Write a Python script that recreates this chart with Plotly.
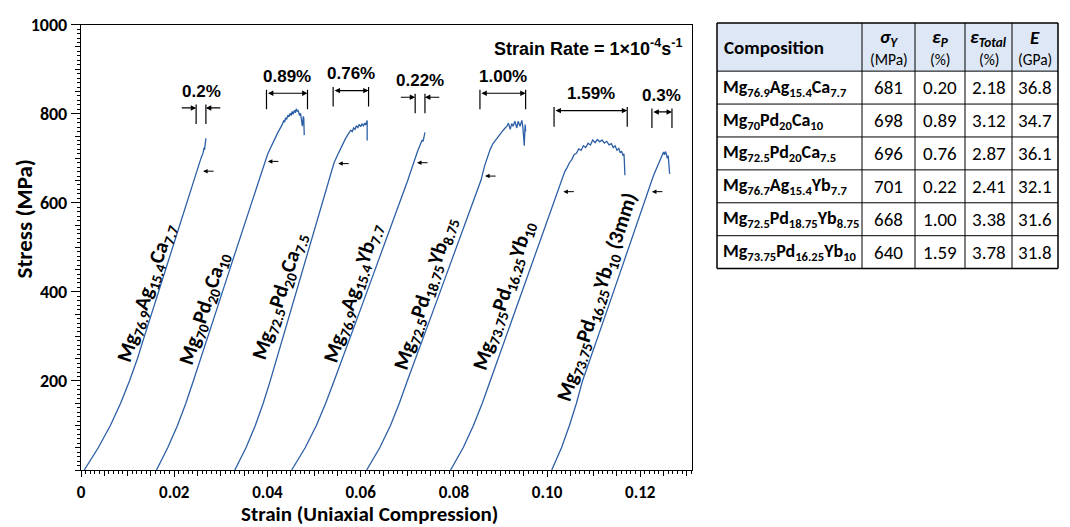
import plotly.graph_objects as go

# ---------------- data ----------------
c1_strain = [0.0007, 0.0037, 0.0063, 0.0085, 0.0104, 0.0121, 0.0136, 0.0166, 0.0196, 0.0226, 0.0251,
             0.0258, 0.0262, 0.0264, 0.0265, 0.0267, 0.0268]
c1_stress = [0, 50, 100, 150, 200, 250, 300, 400, 500, 600, 684, 702, 712, 724, 719, 735, 745]

c2_strain = [0.0162, 0.0186, 0.0207, 0.0225, 0.0241, 0.0257, 0.0288, 0.0319, 0.0350, 0.0381, 0.0393,
             0.0400, 0.0406, 0.0412, 0.0418, 0.0422, 0.0426, 0.0429, 0.0432, 0.0435, 0.0437, 0.0439,
             0.0441, 0.0444, 0.0446, 0.0449, 0.0451, 0.0453, 0.0455, 0.0458, 0.0460, 0.0462, 0.0464,
             0.0466, 0.0469, 0.0471, 0.0473, 0.0475, 0.0477, 0.0478, 0.0479]
c2_stress = [0, 50, 100, 150, 200, 250, 350, 450, 550, 650, 690,
             708, 722, 737, 748, 757, 764, 772, 776, 785, 781, 791,
             787, 797, 793, 801, 796, 805, 799, 808, 802, 811, 806,
             807, 796, 801, 786, 772, 794, 790, 752]

c3_strain = [0.0330, 0.0354, 0.0374, 0.0391, 0.0406, 0.0420, 0.0448, 0.0476, 0.0504, 0.0532, 0.0543,
             0.0550, 0.0556, 0.0562, 0.0567, 0.0572, 0.0576, 0.0579, 0.0582, 0.0585, 0.0588, 0.0591,
             0.0594, 0.0597, 0.0600, 0.0603, 0.0606, 0.0609, 0.0611, 0.0613, 0.0614, 0.0614]
c3_stress = [0, 50, 100, 150, 200, 250, 350, 450, 550, 650, 690,
             706, 720, 733, 743, 752, 757, 763, 760, 768, 765, 773,
             769, 776, 771, 777, 773, 779, 775, 783, 785, 740]

c4_strain = [0.0452, 0.0481, 0.0505, 0.0525, 0.0543, 0.0561, 0.0596, 0.0631, 0.0666, 0.0701,
             0.0722, 0.0729, 0.0732, 0.0734, 0.0736, 0.0738]
c4_stress = [0, 50, 100, 150, 200, 250, 350, 450, 550, 650, 715, 733, 741, 738, 748, 758]

c5_strain = [0.0613, 0.0641, 0.0664, 0.0683, 0.0700, 0.0718, 0.0753, 0.0788, 0.0823, 0.0858,
             0.0866, 0.0872, 0.0878, 0.0884, 0.0890, 0.0896, 0.0901, 0.0906, 0.0910, 0.0914,
             0.0917, 0.0919, 0.0921, 0.0924, 0.0927, 0.0931, 0.0933, 0.0935, 0.0938, 0.0940,
             0.0942, 0.0944, 0.0946, 0.0948, 0.0949, 0.0950, 0.0951, 0.0952, 0.0953, 0.0954]
c5_stress = [0, 50, 100, 150, 200, 250, 350, 450, 550, 650,
             683, 703, 720, 733, 742, 750, 756, 763, 768, 772,
             779, 770, 765, 778, 772, 783, 776, 768, 783, 775,
             772, 779, 785, 770, 761, 745, 728, 752, 776, 760]

c6_strain = [0.0793, 0.0820, 0.0842, 0.0861, 0.0878, 0.0895, 0.0929, 0.0963, 0.0997, 0.1017,
             0.1028, 0.1033, 0.1038, 0.1043, 0.1048, 0.1053, 0.1058, 0.1063, 0.1068, 0.1073,
             0.1078, 0.1083, 0.1088, 0.1093, 0.1098, 0.1103, 0.1108, 0.1113, 0.1118, 0.1123,
             0.1128, 0.1133, 0.1138, 0.1142, 0.1146, 0.1150, 0.1154, 0.1157, 0.1160, 0.1163,
             0.1165, 0.1166, 0.1167]
c6_stress = [0, 50, 100, 150, 200, 250, 350, 450, 550, 610,
             645, 657, 670, 679, 690, 697, 708, 711, 721, 718,
             728, 724, 734, 730, 741, 735, 742, 737, 741, 734,
             738, 730, 733, 724, 728, 718, 722, 712, 716, 706, 710, 690, 662]

c7_strain = [0.1010, 0.1031, 0.1048, 0.1063, 0.1076, 0.1093, 0.1126, 0.1159, 0.1192, 0.1215,
             0.1228, 0.1238, 0.1243, 0.1247, 0.1250, 0.1252, 0.1254, 0.1256, 0.1258, 0.1260,
             0.1262, 0.1263]
c7_stress = [0, 50, 100, 150, 200, 250, 350, 450, 550, 620,
             660, 685, 698, 708, 714, 708, 715, 710, 700, 706, 682, 665]

curve_labels = [
    "Mg<sub>76.9</sub>Ag<sub>15.4</sub>Ca<sub>7.7</sub>",
    "Mg<sub>70</sub>Pd<sub>20</sub>Ca<sub>10</sub>",
    "Mg<sub>72.5</sub>Pd<sub>20</sub>Ca<sub>7.5</sub>",
    "Mg<sub>76.9</sub>Ag<sub>15.4</sub>Yb<sub>7.7</sub>",
    "Mg<sub>72.5</sub>Pd<sub>18.75</sub>Yb<sub>8.75</sub>",
    "Mg<sub>73.75</sub>Pd<sub>16.25</sub>Yb<sub>10</sub>",
    "Mg<sub>73.75</sub>Pd<sub>16.25</sub>Yb<sub>10</sub> (3mm)",
]
label_strain = [0.0141, 0.0264, 0.0427, 0.0584, 0.0740, 0.0908, 0.1109]
label_stress = [397, 362, 390, 397, 397, 393, 388]

# yield markers (small arrows)
yield_strain = [0.0262, 0.0401, 0.0552, 0.0721, 0.0867, 0.1035, 0.1225]
yield_stress = [671, 693, 688, 690, 660, 625, 625]

# plastic-strain brackets
plastic_labels = ["0.2%", "0.89%", "0.76%", "0.22%", "1.00%", "1.59%", "0.3%"]
plastic_start = [0.0247, 0.0398, 0.0541, 0.0717, 0.0856, 0.1015, 0.1225]
plastic_end = [0.0268, 0.0486, 0.0617, 0.0738, 0.0954, 0.1172, 0.1268]
bracket_top = [821, 854, 860, 845, 854, 815, 812]

x_ticks = [0, 0.02, 0.04, 0.06, 0.08, 0.10, 0.12]
x_ticktext = ["0", "0.02", "0.04", "0.06", "0.08", "0.10", "0.12"]
y_ticks = [200, 400, 600, 800, 1000]

# table
tbl_head_sym = ["Composition", "<i>σ<sub>Y</sub></i>", "<i>ε<sub>P</sub></i>",
                "<i>ε<sub>Total</sub></i>", "<i>E</i>"]
tbl_head_unit = ["", "(MPa)", "(%)", "(%)", "(GPa)"]
tbl_comp = [
    "Mg<sub>76.9</sub>Ag<sub>15.4</sub>Ca<sub>7.7</sub>",
    "Mg<sub>70</sub>Pd<sub>20</sub>Ca<sub>10</sub>",
    "Mg<sub>72.5</sub>Pd<sub>20</sub>Ca<sub>7.5</sub>",
    "Mg<sub>76.7</sub>Ag<sub>15.4</sub>Yb<sub>7.7</sub>",
    "Mg<sub>72.5</sub>Pd<sub>18.75</sub>Yb<sub>8.75</sub>",
    "Mg<sub>73.75</sub>Pd<sub>16.25</sub>Yb<sub>10</sub>",
]
tbl_sigma = ["681", "698", "696", "701", "668", "640"]
tbl_epsp = ["0.20", "0.89", "0.76", "0.22", "1.00", "1.59"]
tbl_epst = ["2.18", "3.12", "2.87", "2.41", "3.38", "3.78"]
tbl_E = ["36.8", "34.7", "36.1", "32.1", "31.6", "31.8"]

# ---------------- figure ----------------
MAIN = "Carlito, Lato, sans-serif"
NARROW = "Liberation Sans Narrow, Liberation Sans, Arial, sans-serif"
BLUE = "#2d5fa6"
W, H = 1070, 527
ML, MR, MT, MB = 81, 12, 15, 57
PW, PH = W - ML - MR, H - MT - MB


def pxx(px):
    return (px - ML) / PW


def pxy(py):
    return (H - MB - py) / PH


fig = go.Figure()
curves = [(c1_strain, c1_stress), (c2_strain, c2_stress), (c3_strain, c3_stress),
          (c4_strain, c4_stress), (c5_strain, c5_stress), (c6_strain, c6_stress),
          (c7_strain, c7_stress)]
for sx, sy in curves:
    fig.add_trace(go.Scatter(x=sx, y=sy, mode="lines", line=dict(color=BLUE, width=1.3),
                             hoverinfo="skip", showlegend=False))

# dummy traces to host the tick-only overlay axes
fig.add_trace(go.Scatter(x=[], y=[], xaxis="x2", yaxis="y", showlegend=False))
fig.add_trace(go.Scatter(x=[], y=[], xaxis="x", yaxis="y2", showlegend=False))

ann = []
shapes = []

for t, x, y in zip(curve_labels, label_strain, label_stress):
    ann.append(dict(x=x, y=y, xref="x", yref="y", text="<b>" + t + "</b>", showarrow=False,
                    textangle=-72, font=dict(family=MAIN, size=21, color="black"),
                    xanchor="center", yanchor="middle"))
for x, y in zip(yield_strain, yield_stress):
    ann.append(dict(x=x, y=y, xref="x", yref="y", text="", showarrow=True, ax=12, ay=0,
                    arrowhead=2, arrowsize=0.9, arrowwidth=1, arrowcolor="black"))

span = 0.0034
for lab, s0, s1, top in zip(plastic_labels, plastic_start, plastic_end, bracket_top):
    for xx in (s0, s1):
        shapes.append(dict(type="line", xref="x", yref="y", x0=xx, x1=xx, y0=top, y1=top - 44,
                           line=dict(color="black", width=1.2)))
    hy = top - 8
    if s1 - s0 < 0.003:
        ann.append(dict(x=s0, y=hy, ax=s0 - span, ay=hy, xref="x", yref="y", axref="x", ayref="y",
                        text="", showarrow=True, arrowhead=2, arrowsize=0.9, arrowwidth=1.2,
                        arrowcolor="black"))
        ann.append(dict(x=s1, y=hy, ax=s1 + span, ay=hy, xref="x", yref="y", axref="x", ayref="y",
                        text="", showarrow=True, arrowhead=2, arrowsize=0.9, arrowwidth=1.2,
                        arrowcolor="black"))
    else:
        ann.append(dict(x=s1, y=hy, ax=s0, ay=hy, xref="x", yref="y", axref="x", ayref="y",
                        text="", showarrow=True, arrowhead=2, startarrowhead=2, arrowside="end+start",
                        arrowsize=0.9, startarrowsize=0.9, arrowwidth=1.2, arrowcolor="black"))
    ann.append(dict(x=(s0 + s1) / 2, y=top + 4, xref="x", yref="y", text="<b>" + lab + "</b>",
                    showarrow=False, yanchor="bottom", xanchor="center",
                    font=dict(family=NARROW, size=17, color="black")))

ann.append(dict(x=0.1296, y=949, xref="x", yref="y", xanchor="right", yanchor="middle",
                text="<b>Strain Rate = 1×10<sup>-4</sup>s<sup>-1</sup></b>", showarrow=False,
                font=dict(family=NARROW, size=18, color="black")))
ann.append(dict(x=pxx(369), y=pxy(515), xref="paper", yref="paper", showarrow=False,
                text="<b>Strain (Uniaxial Compression)</b>", xanchor="center", yanchor="middle",
                font=dict(family=MAIN, size=21, color="black")))
ann.append(dict(x=pxx(24), y=pxy(215), xref="paper", yref="paper", showarrow=False, textangle=-90,
                text="<b>Stress (MPa)</b>", xanchor="center", yanchor="middle",
                font=dict(family=MAIN, size=23, color="black")))

# ---------------- table (drawn with shapes + text) ----------------
col_w = [145, 53, 50, 47, 46]
tbl_x0, tbl_y0 = 717, 15
head_h, row_h = 49, 33.5
col_edges = [tbl_x0]
for w in col_w:
    col_edges.append(col_edges[-1] + w)
n_rows = len(tbl_comp)
row_edges = [tbl_y0, tbl_y0 + head_h] + [tbl_y0 + head_h + row_h * (i + 1) for i in range(n_rows)]

shapes.append(dict(type="rect", xref="paper", yref="paper", x0=pxx(col_edges[0]), x1=pxx(col_edges[-1]),
                   y0=pxy(row_edges[0]), y1=pxy(row_edges[1]), fillcolor="#dde7f5",
                   line=dict(width=0), layer="below"))
for xe in col_edges:
    shapes.append(dict(type="line", xref="paper", yref="paper", x0=pxx(xe), x1=pxx(xe),
                       y0=pxy(row_edges[0]), y1=pxy(row_edges[-1]),
                       line=dict(color="black", width=1.5 if xe in (col_edges[0], col_edges[-1]) else 1)))
for ye in row_edges:
    shapes.append(dict(type="line", xref="paper", yref="paper", x0=pxx(col_edges[0]), x1=pxx(col_edges[-1]),
                       y0=pxy(ye), y1=pxy(ye),
                       line=dict(color="black", width=1.5 if ye in (row_edges[0], row_edges[-1]) else 1)))

cols = [[c for c in tbl_comp], tbl_sigma, tbl_epsp, tbl_epst, tbl_E]
for j in range(5):
    cx = (col_edges[j] + col_edges[j + 1]) / 2
    if j == 0:
        ann.append(dict(x=pxx(col_edges[0] + 5), y=pxy((row_edges[0] + row_edges[1]) / 2), xref="paper",
                        yref="paper", xanchor="left", yanchor="middle", showarrow=False,
                        text="<b>" + tbl_head_sym[0] + "</b>",
                        font=dict(family=MAIN, size=19, color="black")))
    else:
        ann.append(dict(x=pxx(cx), y=pxy(row_edges[0] + 15), xref="paper", yref="paper",
                        xanchor="center", yanchor="middle", showarrow=False,
                        text="<b>" + tbl_head_sym[j] + "</b>",
                        font=dict(family=MAIN, size=19, color="black")))
        ann.append(dict(x=pxx(cx), y=pxy(row_edges[0] + 37), xref="paper", yref="paper",
                        xanchor="center", yanchor="middle", showarrow=False, text=tbl_head_unit[j],
                        font=dict(family=MAIN, size=15.5, color="black")))
    for i in range(n_rows):
        cy = (row_edges[i + 2] + row_edges[i + 1]) / 2
        if j == 0:
            ann.append(dict(x=pxx(col_edges[0] + 4), y=pxy(cy), xref="paper", yref="paper",
                            xanchor="left", yanchor="middle", showarrow=False,
                            text="<b>" + cols[j][i] + "</b>",
                            font=dict(family=MAIN, size=18, color="black")))
        else:
            ann.append(dict(x=pxx(cx), y=pxy(cy), xref="paper", yref="paper",
                            xanchor="center", yanchor="middle", showarrow=False, text=cols[j][i],
                            font=dict(family=MAIN, size=19, color="black")))

fig.update_layout(
    width=W, height=H,
    margin=dict(l=ML, r=MR, t=MT, b=MB),
    paper_bgcolor="white", plot_bgcolor="white",
    showlegend=False,
    annotations=ann, shapes=shapes,
    xaxis=dict(domain=[0, pxx(692)], range=[0, 0.1311], tickvals=x_ticks,
               ticktext=["<b>" + t + "</b>" for t in x_ticktext],
               ticks="outside", ticklen=6, tickwidth=1.3, tickcolor="black",
               showline=True, linecolor="black", linewidth=1.3, mirror=True,
               showgrid=False, zeroline=False,
               tickfont=dict(family=MAIN, size=17, color="black")),
    xaxis2=dict(overlaying="x", anchor="y", range=[0, 0.1311], tickmode="linear", tick0=0,
                dtick=0.005, ticks="outside", ticklen=5, tickwidth=1, tickcolor="black",
                showticklabels=False, showgrid=False, zeroline=False, showline=False,
                minor=dict(dtick=0.001, ticklen=3, ticks="outside", tickcolor="black", showgrid=False)),
    yaxis=dict(domain=[0, pxy(16.7)], range=[0, 1000], tickvals=y_ticks,
               ticktext=["<b>%d</b>" % v for v in y_ticks],
               ticks="outside", ticklen=9, tickwidth=1.3, tickcolor="black",
               showline=True, linecolor="black", linewidth=1.3, mirror=True,
               showgrid=False, zeroline=False,
               tickfont=dict(family=MAIN, size=18, color="black")),
    yaxis2=dict(overlaying="y", anchor="x", range=[0, 1000], tickmode="linear", tick0=0,
                dtick=50, ticks="outside", ticklen=5, tickwidth=1, tickcolor="black",
                showticklabels=False, showgrid=False, zeroline=False, showline=False,
                minor=dict(dtick=10, ticklen=3, ticks="outside", tickcolor="black", showgrid=False)),
)

fig.write_html("out.html")
